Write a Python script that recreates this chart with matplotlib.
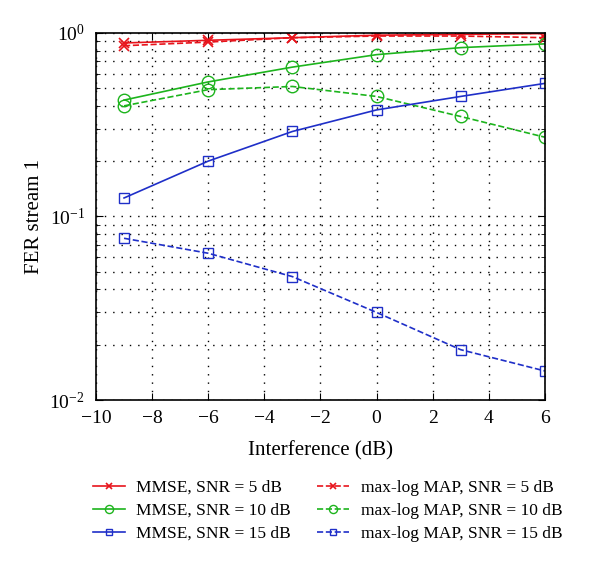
import matplotlib.pyplot as plt
import numpy as np

plt.rcParams['font.family'] = 'Liberation Serif'
plt.rcParams['mathtext.fontset'] = 'custom'
plt.rcParams['mathtext.rm'] = 'Liberation Serif'
plt.rcParams['mathtext.it'] = 'Liberation Serif:italic'

interf = [-9, -6, -3, 0, 3, 6]

mmse_5 = [0.88, 0.91, 0.94, 0.97, 0.98, 0.99]
mmse_10 = [0.43, 0.54, 0.65, 0.76, 0.83, 0.87]
mmse_15 = [0.126, 0.20, 0.29, 0.38, 0.45, 0.53]
map_5 = [0.85, 0.89, 0.94, 0.96, 0.96, 0.94]
map_10 = [0.40, 0.49, 0.51, 0.45, 0.35, 0.27]
map_15 = [0.076, 0.063, 0.047, 0.030, 0.0188, 0.0144]

fig = plt.figure(figsize=(6, 5.65), dpi=100)
ax = fig.add_axes([0.16, 0.292, 0.748, 0.65])

ax.semilogy(interf, mmse_5, '-', color='#e8141c', marker='x', ms=7, mew=1.2, lw=1.2, label='MMSE, SNR = 5 dB')
ax.semilogy(interf, map_5, '--', color='#e8141c', marker='x', ms=7, mew=1.2, lw=1.2, label='max-log MAP, SNR = 5 dB')
ax.semilogy(interf, mmse_10, '-', color='#1db41d', marker='o', mfc='none', ms=9, lw=1.2, label='MMSE, SNR = 10 dB')
ax.semilogy(interf, map_10, '--', color='#1db41d', marker='o', mfc='none', ms=9, lw=1.2, label='max-log MAP, SNR = 10 dB')
ax.semilogy(interf, mmse_15, '-', color='#1f2fc8', marker='s', mfc='none', ms=7, lw=1.2, label='MMSE, SNR = 15 dB')
ax.semilogy(interf, map_15, '--', color='#1f2fc8', marker='s', mfc='none', ms=7, lw=1.2, label='max-log MAP, SNR = 15 dB')

ax.set_xlim(-10, 6)
ax.set_ylim(1e-2, 1)
ax.set_xticks(np.arange(-10, 7, 2))
ax.set_xticklabels(['\u2212%d' % -v if v < 0 else '%d' % v for v in range(-10, 7, 2)])
ax.grid(True, which='major', ls=(0, (1, 5)), color='k', lw=1.0)
ax.grid(True, which='minor', axis='y', ls=(0, (1, 5)), color='k', lw=1.0)
ax.tick_params(which='both', direction='in', top=True, right=True, labelsize=14)
ax.tick_params(which='major', length=5)
ax.tick_params(which='minor', length=3)
ax.tick_params(axis='x', pad=7)
ax.tick_params(axis='y', pad=8)
for s in ax.spines.values():
    s.set_linewidth(1.2)

ax.set_xlabel('Interference (dB)', fontsize=15, labelpad=10)
ax.set_ylabel('FER stream 1', fontsize=15, labelpad=4)

h, l = ax.get_legend_handles_labels()
order = [0, 2, 4, 1, 3, 5]
leg = fig.legend([h[i] for i in order], [l[i] for i in order], ncol=2, frameon=False,
                 loc='upper center', bbox_to_anchor=(0.546, 0.179), fontsize=12.5,
                 handlelength=1.85, columnspacing=1.5, labelspacing=0.4, handletextpad=0.65,
                 markerscale=0.65)

fig.savefig('out.png', dpi=100)
